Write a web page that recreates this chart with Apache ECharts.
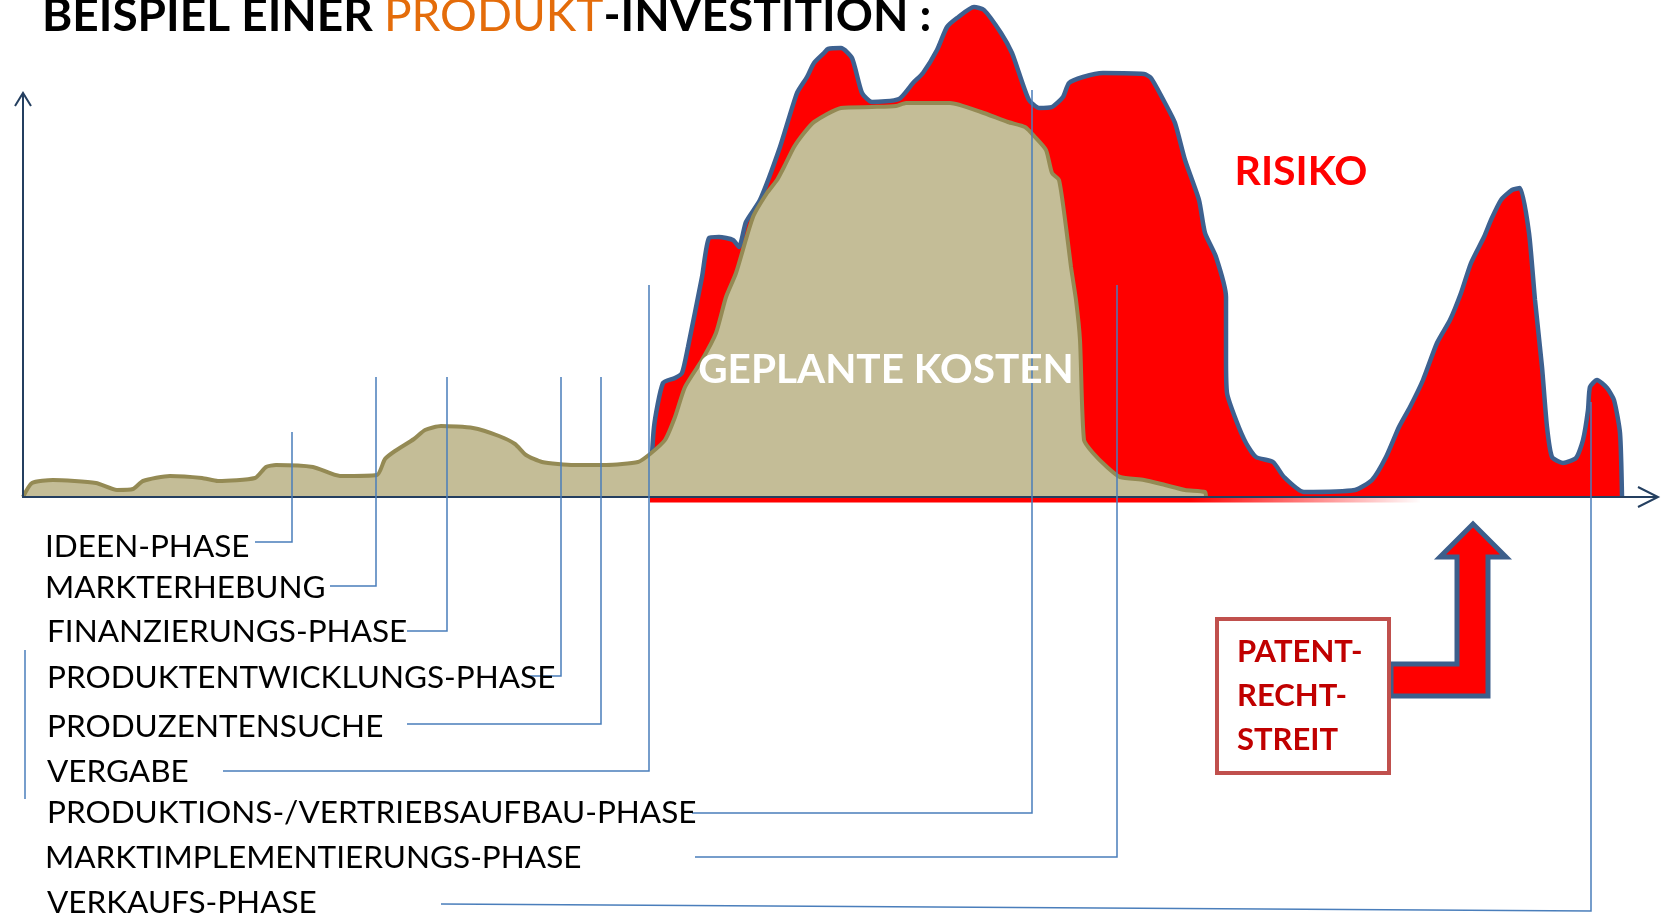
<!DOCTYPE html>
<html>
<head>
<meta charset="utf-8">
<script src="https://cdn.jsdelivr.net/npm/echarts@6/dist/echarts.min.js"></script>
<style>
html,body{margin:0;padding:0;background:#fff}
#main{width:1666px;height:918px}
</style>
</head>
<body>
<div id="main"></div>
<script>
// Zeit (x) gegen Aufwand (y)
var kosten = [[3,0],[12,14],[33,17],[76,14],[97,7],[113,8],[123,16],[150,21],[182,19],[198,16],[235,19],[246,30],[256,32],[293,30],[320,21],[357,22],[365,38],[375,46],[394,58],[405,67],[421,71],[453,69],[479,61],[495,53],[506,42],[522,35],[554,32],[586,32],[618,35],[630,43],[645,57],[655,80],[665,110],[682,137],[696,164],[706,200],[716,224],[733,280],[747,304],[757,317],[764,330],[774,350],[784,364],[794,375],[821,389],[852,390],[876,391],[886,394],[930,394],[961,385],[988,375],[1005,370],[1015,360],[1026,347],[1032,324],[1039,317],[1046,270],[1051,230],[1056,197],[1060,157],[1064,57],[1073,44],[1087,30],[1100,20],[1124,17],[1145,12],[1165,7],[1185,5],[1186,0]];

var risiko = [[630,0],[634,70],[643,114],[655,119],[662,124],[668,150],[682,220],[689,259],[699,260],[713,257],[719,250],[726,275],[740,297],[760,350],[777,404],[787,420],[794,434],[804,444],[808,448],[821,449],[832,439],[842,404],[852,395],[879,398],[893,414],[903,424],[917,447],[927,470],[937,479],[954,490],[964,487],[981,464],[992,444],[998,427],[1009,397],[1019,389],[1032,390],[1043,400],[1049,414],[1063,420],[1083,424],[1124,423],[1131,419],[1145,394],[1155,374],[1165,337],[1179,297],[1185,264],[1196,240],[1206,200],[1206,140],[1207,104],[1216,77],[1226,54],[1236,40],[1253,35],[1264,20],[1284,5],[1335,7],[1352,17],[1366,40],[1379,70],[1390,90],[1403,117],[1417,154],[1430,177],[1441,204],[1451,234],[1464,260],[1471,277],[1481,297],[1492,307],[1500,309],[1509,264],[1515,197],[1522,130],[1527,70],[1532,40],[1543,34],[1556,39],[1563,57],[1568,87],[1570,110],[1577,117],[1587,109],[1594,97],[1600,64],[1602,0]];

var phasen = ['IDEEN-PHASE','MARKTERHEBUNG','FINANZIERUNGS-PHASE','PRODUKTENTWICKLUNGS-PHASE','PRODUZENTENSUCHE','VERGABE','PRODUKTIONS-/VERTRIEBSAUFBAU-PHASE','MARKTIMPLEMENTIERUNGS-PHASE','VERKAUFS-PHASE'];
var phasenStart = [272, 356, 427, 541, 581, 629, 1012, 1097, 1571];
var phasenHoehe = [65, 120, 120, 120, 120, 212, 407, 212, 95];

// Layout der Beschriftungen unten (Pixel)
var zeileY = [547, 588, 632, 678, 727, 772, 813, 858, 903];
var zeileX = [45, 45, 47, 47, 47, 47, 47, 45, 47];
var linieY = [542, 586, 631, 676, 724, 771, 813, 857, 904];
var linieEndY = [542, 586, 631, 676, 724, 771, 813, 857, 911];
var linieVon = [255, 330, 407, 528, 407, 223, 692, 695, 441];

var chart = echarts.init(document.getElementById('main'));

var option = {
	animation: false,
	grid: { left: 20, right: 6, top: 0, bottom: 421 },
	xAxis: { type: 'value', min: 0, max: 1640, show: false },
	yAxis: { type: 'value', min: 0, max: 497, show: false },
	series: [{
		name: 'Risiko',
		type: 'line',
		data: risiko,
		smooth: 0.2,
		showSymbol: false,
		z: 2,
		lineStyle: { color: '#3d6190', width: 4.5 },
		areaStyle: { color: '#ff0000', opacity: 1 }
	}, {
		name: 'Geplante Kosten',
		type: 'line',
		data: kosten,
		smooth: 0.2,
		showSymbol: false,
		z: 3,
		lineStyle: { color: '#948a54', width: 4 },
		areaStyle: { color: '#c4bd97', opacity: 1 }
	}]
};
chart.setOption(option);

function px(x, y) {
	return chart.convertToPixel({ gridIndex: 0 }, [x, y]);
}

var blau = '#4a7ebb';
var navy = '#243f60';
var g = [];

// Achsen
var o = px(3, 0);
g.push({ type: 'line', z: 100, shape: { x1: 650, y1: o[1] + 3, x2: 1420, y2: o[1] + 3 },
	style: { lineWidth: 5, stroke: new echarts.graphic.LinearGradient(0, 0, 1, 0, [
		{ offset: 0, color: '#ff0000' }, { offset: 0.7, color: '#ff0000' }, { offset: 1, color: 'rgba(255,0,0,0)' }]) } });
g.push({ type: 'polyline', z: 101, shape: { points: [[o[0], 93], [o[0], o[1]], [1658, o[1]]] },
	style: { stroke: navy, lineWidth: 2, fill: null } });
g.push({ type: 'polyline', z: 101, shape: { points: [[o[0] - 8, 106], [o[0], 93], [o[0] + 8, 106]] },
	style: { stroke: navy, lineWidth: 2, fill: null } });
g.push({ type: 'polyline', z: 101, shape: { points: [[1638, o[1] - 10], [1658, o[1]], [1638, o[1] + 10]] },
	style: { stroke: navy, lineWidth: 2, fill: null } });

// Phasen-Linien und Beschriftungen
phasen.forEach(function(name, i) {
	var top = px(phasenStart[i], phasenHoehe[i]);
	g.push({ type: 'polyline', z: 102,
		shape: { points: [[linieVon[i], linieY[i]], [top[0], linieEndY[i]], [top[0], top[1]]] },
		style: { stroke: blau, lineWidth: 1.5, fill: null } });
	g.push({ type: 'text', z: 103, x: zeileX[i], y: zeileY[i],
		style: { text: name, fill: '#000', font: '31.5px Lato', align: 'left', textAlign: 'left',
			verticalAlign: 'middle', textVerticalAlign: 'middle' } });
});
g.push({ type: 'line', z: 102, shape: { x1: 25, y1: 650, x2: 25, y2: 799 }, style: { stroke: blau, lineWidth: 1.5 } });

// Titel
g.push({ type: 'text', z: 103, x: 42, y: 16,
	style: { text: '{a|BEISPIEL EINER }{b|PRODUKT}{a|-INVESTITION :}',
		verticalAlign: 'middle', textVerticalAlign: 'middle',
		rich: {
			a: { fontFamily: 'Lato', fontWeight: 'bold', fontSize: 46, fill: '#000', color: '#000' },
			b: { fontFamily: 'Lato', fontWeight: 'normal', fontSize: 46, fill: '#e46c0a', color: '#e46c0a' }
		} } });

// Flaechen-Beschriftungen
g.push({ type: 'text', z: 103, x: 886, y: 370,
	style: { text: 'GEPLANTE KOSTEN', fill: '#fff', font: 'bold 40.5px Lato', align: 'center', textAlign: 'center',
		verticalAlign: 'middle', textVerticalAlign: 'middle' } });
g.push({ type: 'text', z: 103, x: 1301, y: 172,
	style: { text: 'RISIKO', fill: '#ff0000', font: 'bold 41px Lato', align: 'center', textAlign: 'center',
		verticalAlign: 'middle', textVerticalAlign: 'middle' } });

// Patentrechtstreit: Pfeil und Kasten
g.push({ type: 'polygon', z: 104,
	shape: { points: [[1391, 664], [1457, 664], [1457, 557], [1440, 557], [1473, 524], [1506, 557], [1488, 557], [1488, 696], [1391, 696]] },
	style: { fill: '#ff0000', stroke: '#3c5f8c', lineWidth: 5 } });
g.push({ type: 'rect', z: 105, shape: { x: 1217, y: 619, width: 172, height: 154 },
	style: { fill: '#fff', stroke: '#c0504d', lineWidth: 4 } });
['PATENT-', 'RECHT-', 'STREIT'].forEach(function(t, i) {
	g.push({ type: 'text', z: 106, x: 1237, y: 652 + i * 44,
		style: { text: t, fill: '#c00000', font: 'bold 31px Lato', align: 'left', textAlign: 'left',
			verticalAlign: 'middle', textVerticalAlign: 'middle' } });
});

chart.setOption({ graphic: { elements: g } });
</script>
</body>
</html>
